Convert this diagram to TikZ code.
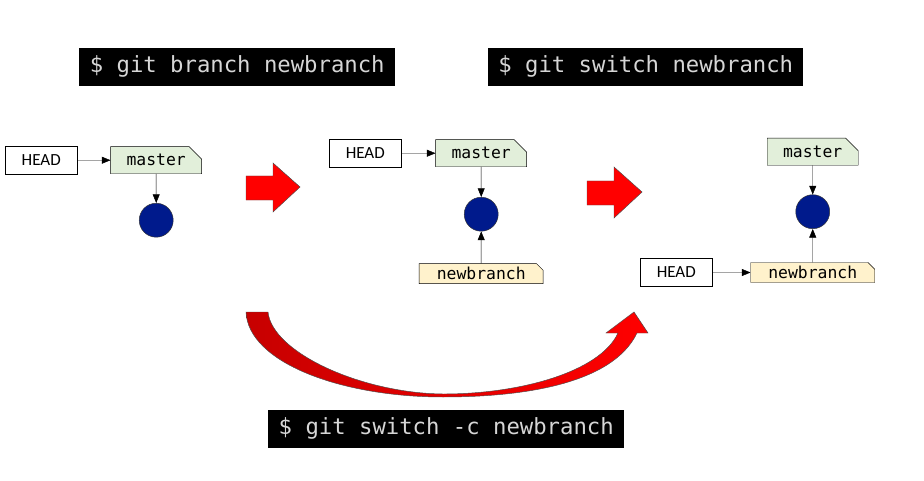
\documentclass[tikz,border=0pt]{standalone}
\usepackage{fontspec}
\setmainfont{Carlito}
\setmonofont{DejaVu Sans Mono}
\usepackage{tikz}
\usetikzlibrary{positioning,shapes.misc,arrows.meta}

\definecolor{notegreen}{RGB}{226,239,218}
\definecolor{noteyellow}{RGB}{255,242,204}
\definecolor{commitblue}{RGB}{0,26,140}
\definecolor{termgrey}{RGB}{214,214,214}

\begin{document}
\begin{tikzpicture}[x=0.03cm,y=-0.03cm,
  termbox/.style={fill=black,text=termgrey,inner sep=0pt,minimum height=1.12cm,font=\ttfamily\fontsize{19}{20}\selectfont},
  headbox/.style={draw,fill=white,minimum width=2.16cm,minimum height=0.84cm,inner sep=0pt,font=\fontsize{14.5}{15}\selectfont},
  branchnote/.style={draw,chamfered rectangle,chamfered rectangle corners=north east,inner sep=0pt,font=\ttfamily\fontsize{14}{14}\selectfont},
  masternote/.style={branchnote,chamfered rectangle sep=0.2cm,fill=notegreen,minimum width=2.73cm,minimum height=0.81cm},
  newnote/.style={branchnote,chamfered rectangle sep=0.1cm,fill=noteyellow,minimum width=3.72cm,minimum height=0.6cm},
  commit/.style={draw=black!80,circle,fill=commitblue,minimum size=1.02cm,inner sep=0pt},
  ptr/.style={-{Triangle[length=2.6mm,width=2.1mm]},thin},
  blockarrow/.style={fill=red,draw=black!70,thin}
]
\useasboundingbox (0,0) rectangle (924,481);

\node[termbox,minimum width=9.48cm,anchor=north west] (cmdbranch) at (79,48) {\$ git branch newbranch};
\node[termbox,minimum width=9.45cm,anchor=north west] (cmdswitch) at (488,48) {\$ git switch newbranch};
\node[termbox,minimum width=10.68cm,anchor=north west] (cmdswitchc) at (268,410) {\$ git switch -c newbranch};

% before
\node[headbox,anchor=north west] (headA) at (5,146) {HEAD};
\node[masternote, right=0.99cm of headA] (masterA) {master};
\node[commit, below=0.87cm of masterA] (commitA) {};

% after git branch
\node[headbox,anchor=north west] (headB) at (329,139) {HEAD};
\node[masternote, right=1.02cm of headB] (masterB) {master};
\node[commit, below=0.9cm of masterB] (commitB) {};
\node[newnote, below=0.96cm of commitB] (newbranchB) {newbranch};

% after git switch
\node[masternote,anchor=north west] (masterC) at (767,138) {master};
\node[commit, below=0.87cm of masterC] (commitC) {};
\node[newnote, below=1cm of commitC] (newbranchC) {newbranch};
\node[headbox, left=1.14cm of newbranchC] (headC) {HEAD};

\draw[ptr] (headA) -- (masterA);
\draw[ptr] (masterA) -- (commitA);
\draw[ptr] (headB) -- (masterB);
\draw[ptr] (masterB) -- (commitB);
\draw[ptr] (newbranchB) -- (commitB);
\draw[ptr] (masterC) -- (commitC);
\draw[ptr] (newbranchC) -- (commitC);
\draw[ptr] (headC) -- (newbranchC);

\draw[blockarrow] (246,176) -- (273,176) -- (273,163) -- (300,187) -- (273,212) -- (273,200) -- (246,200) -- cycle;
\draw[blockarrow] (587,181) -- (614,181) -- (614,167) -- (642,192) -- (614,218) -- (614,205) -- (587,205) -- cycle;

\draw[draw=black!70,thin,left color=red!78!black,right color=red]
  (246,312) -- (268,312) .. controls (272,352) and (360,393) .. (443,394)
  .. controls (520,394) and (600,372) .. (618,333) -- (606,333) -- (634,312) -- (648,333) -- (637,333)
  .. controls (612,385) and (520,397) .. (443,397)
  .. controls (340,397) and (248,362) .. (246,312) -- cycle;

\end{tikzpicture}
\end{document}
